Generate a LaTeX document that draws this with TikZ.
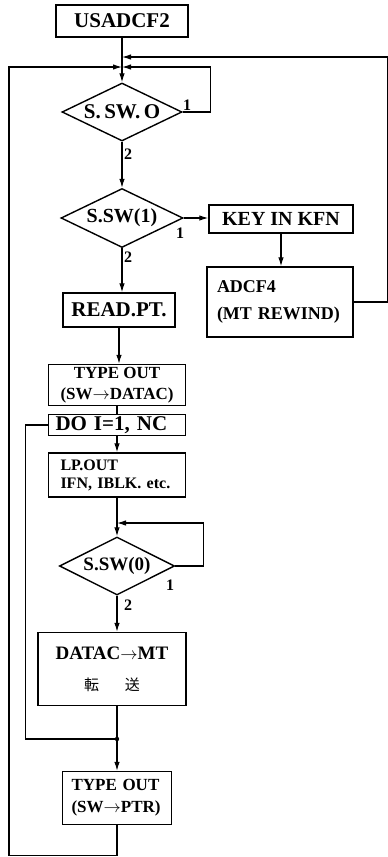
\documentclass[tikz,border=0pt]{standalone}
\usepackage{fontspec}
\setmainfont{Liberation Serif}
\newfontfamily\jpfont{Noto Sans CJK JP}
\usetikzlibrary{arrows.meta, shapes.geometric}

\begin{document}
\begin{tikzpicture}[x=1pt, y=-1pt,
  box/.style={draw, line width=1.4pt, inner sep=2pt, align=center, font=\bfseries\fontsize{20}{22}\selectfont},
  lbox/.style={box, align=left, inner xsep=#1},
  dec/.style={draw, diamond, aspect=2, inner sep=0pt, line width=1.4pt, minimum width=120pt, minimum height=58pt, font=\bfseries\fontsize{20}{22}\selectfont},
  arr/.style={-{Latex[length=9pt, width=5.5pt]}, line width=1.1pt},
  ln/.style={line width=1.1pt},
  num/.style={inner sep=0pt, font=\bfseries\fontsize{16}{16}\selectfont}
]
\useasboundingbox (0,0) rectangle (388,857);
\node[box, minimum width=132pt, minimum height=32pt, font=\bfseries\fontsize{21}{22}\selectfont] (start) at (122,21) {USADCF2};
\node[dec, font=\bfseries\fontsize{21}{22}\selectfont] (sw0) at (122,112) {S.\,SW.\,O};
\node[dec, minimum width=122pt, minimum height=59pt] (sw1) at (122,218) {S.SW(1)};
\node[box, minimum width=144pt, minimum height=28pt] (key) at (281,219) {KEY IN KFN};
\node[lbox=10pt, text width=126pt, minimum height=70pt, font=\bfseries\fontsize{18}{21}\selectfont] (adcf) at (280,302) {ADCF4\\[6pt](MT REWIND)};
\node[box, minimum width=112pt, minimum height=34pt, font=\bfseries\fontsize{21}{22}\selectfont] (read) at (119,310) {READ.PT.};
\node[box, minimum width=137pt, minimum height=41pt, inner ysep=0pt, font=\bfseries\fontsize{17}{21}\selectfont] (type1) at (117,385) {TYPE OUT\\(SW$\rightarrow$DATAC)};
\node[lbox=7pt, text width=123pt, minimum height=21pt, inner ysep=0pt, font=\bfseries\fontsize{21}{22}\selectfont] (do) at (117,425) {DO I=1, NC};
\node[lbox=12pt, text width=113pt, minimum height=44pt, font=\bfseries\fontsize{16}{18}\selectfont] (lp) at (117,475) {LP.OUT\\IFN, IBLK. etc.};
\node[dec, minimum width=115pt, font=\bfseries\fontsize{19}{22}\selectfont] (sw2) at (117,566) {S.SW(0)};
\node[box, minimum width=148pt, minimum height=73pt, font=\bfseries\fontsize{19}{22}\selectfont] (datac) at (112,669) {DATAC$\rightarrow$MT\\[9pt]{\mdseries\jpfont\fontsize{15}{15}\selectfont 転\hspace{26pt}送}};
\node[lbox=9pt, text width=91pt, minimum height=53pt, font=\bfseries\fontsize{17}{22}\selectfont] (type2) at (117,798) {TYPE OUT\\(SW$\rightarrow$PTR)};
\node[num] (n01) at (187,105) {1};
\node[num] (n02) at (128,154) {2};
\node[num] (n11) at (180,233) {1};
\node[num] (n12) at (128,257) {2};
\node[num] (n21) at (170,585) {1};
\node[num] (n22) at (128,605) {2};
\coordinate (m0) at (122,57);
\coordinate (m1) at (122,67);
\coordinate (m2) at (117,523);
\coordinate (jn) at (117,739);
\draw[arr] (start) -- (sw0);
\draw[arr] (sw0.east) -- ++(28,0) |- (m1);
\draw[arr] (type2.south) -- ++(0,30) -- ++(-108,0) |- (m1);
\draw[arr] (sw0) -- (sw1);
\draw[arr] (sw1.east) -- (sw1.east -| key.west);
\draw[arr] (key.south) -- (key.south |- adcf.north);
\draw[arr] (adcf.east) -- ++(34,0) |- (m0);
\draw[arr] (sw1.south) -- (sw1.south |- read.north);
\draw[arr] (read.south) -- (read.south |- type1.north);
\draw[ln] (type1.south) -- (type1.south |- do.north);
\draw[arr] (do) -- (lp);
\draw[arr] (lp) -- (sw2);
\draw[arr] (sw2.east) -- ++(28,0) |- (m2);
\draw[arr] (sw2.south) -- (sw2.south |- datac.north);
\draw[ln] (datac.south -| jn) -- (jn);
\draw[ln] (do.west) -- ++(-22,0) |- (jn);
\draw[arr] (jn) -- (jn |- type2.north);
\fill (jn) circle (2.2pt);
\end{tikzpicture}
\end{document}
